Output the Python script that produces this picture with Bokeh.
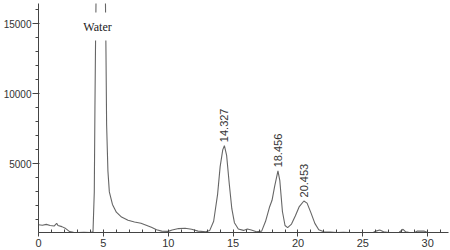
import math
from bokeh.plotting import figure
from bokeh.models import Range1d, Label, ColumnDataSource, FixedTicker
from bokeh.core.properties import value
from bokeh.embed import file_html
from bokeh.resources import INLINE

# retention time (min) and detector signal
time_min = [0.0, 0.3, 0.6, 0.9, 1.2, 1.4, 1.5, 1.8, 2.1, 2.4, 2.7, 3.0, 3.5, 4.0, 4.2,
            4.3, 4.35, 4.4, 4.5, 4.8, 5.1, 5.2, 5.25, 5.35, 5.46, 5.7, 6.0, 6.4, 6.9,
            7.4, 7.9, 8.3, 8.7, 9.1, 9.5, 10.0, 10.3, 10.8, 11.3, 11.8, 12.3, 12.9,
            13.2, 13.5, 13.8, 14.0, 14.2, 14.327, 14.5, 14.7, 14.9, 15.1, 15.4, 15.8,
            16.1, 16.4, 16.8, 17.2, 17.5, 17.8, 18.0, 18.2, 18.456, 18.6, 18.8, 19.0,
            19.2, 19.5, 19.8, 20.1, 20.453, 20.7, 21.0, 21.3, 21.6, 22.0, 22.5, 23.0,
            23.5, 24.0, 25.0, 25.8, 26.0, 26.3, 26.6, 27.0, 27.8, 28.1, 28.3, 28.6,
            29.0, 29.2, 29.7, 30.0]
signal = [650, 620, 680, 600, 560, 760, 600, 520, 380, 160, 120, 100, 110, 100, 150,
          3000, 9000, 14000, 22000, 30000, 22000, 13000, 7800, 4500, 3000, 2100, 1550,
          1200, 970, 850, 760, 620, 470, 300, 200, 180, 280, 380, 400, 330, 200, 150,
          250, 900, 2800, 4800, 6000, 6300, 5600, 3600, 1800, 800, 350, 250,
          350, 280, 150, 200, 900, 1900, 2400, 3400, 4500, 3800, 1600, 600,
          450, 700, 1300, 1950, 2350, 2200, 1500, 750, 300, 150, 130, 100,
          110, 100, 100, 100, 200, 280, 150, 100, 120, 330, 150, 100,
          100, 200, 200, 100]

peak_times = [14.327, 18.456, 20.453]
peak_heights = [6300, 4500, 2350]
peak_labels = ["14.327", "18.456", "20.453"]

water_label = "Water"
water_time = 4.55
water_level = 14800

x_ticks = [0, 5, 10, 15, 20, 25, 30]
y_ticks = [5000, 10000, 15000]

p = figure(width=450, height=250, output_backend="svg", toolbar_location=None,
           x_range=Range1d(0, 31.6), y_range=Range1d(100, 16450),
           min_border_left=37, min_border_right=2, min_border_top=3, min_border_bottom=18)
p.outline_line_color = None
p.grid.visible = False
p.background_fill_color = "white"

p.line(time_min, signal, line_color="#666666", line_width=1.1)

src = ColumnDataSource(dict(x=peak_times, y=[h + 250 for h in peak_heights], t=peak_labels))
p.text(x="x", y="y", text="t", source=src, angle=math.pi / 2, text_align="left",
       text_baseline="middle", text_font=value("Liberation Sans"), text_font_size="11px",
       text_color="#333333")

p.add_layout(Label(x=water_time, y=water_level, text=water_label, text_align="center",
                   text_baseline="middle", text_font="Liberation Serif", text_font_size="12px",
                   text_color="#222222", background_fill_color="white",
                   padding=7))

for ax in (p.xaxis[0], p.yaxis[0]):
    ax.axis_line_color = "#444444"
    ax.major_tick_line_color = "#444444"
    ax.minor_tick_line_color = "#444444"
    ax.major_label_text_font = "Liberation Sans"
    ax.major_label_text_font_size = "10px"
    ax.major_label_text_color = "#333333"

p.xaxis[0].ticker = FixedTicker(ticks=x_ticks, minor_ticks=[i for i in range(0, 32)])
p.xaxis[0].major_tick_out = 4
p.xaxis[0].major_tick_in = 0
p.xaxis[0].minor_tick_in = 3
p.xaxis[0].minor_tick_out = 0
p.xaxis[0].major_label_standoff = 2
p.xaxis[0].major_label_text_font_size = "11px"

p.yaxis[0].ticker = FixedTicker(ticks=y_ticks, minor_ticks=[i * 1000 for i in range(1, 17)])
p.yaxis[0].major_tick_out = 6
p.yaxis[0].major_tick_in = 1
p.yaxis[0].minor_tick_out = 3
p.yaxis[0].minor_tick_in = 0
p.yaxis[0].major_label_standoff = 1

open("out.html", "w").write(file_html(p, INLINE))
